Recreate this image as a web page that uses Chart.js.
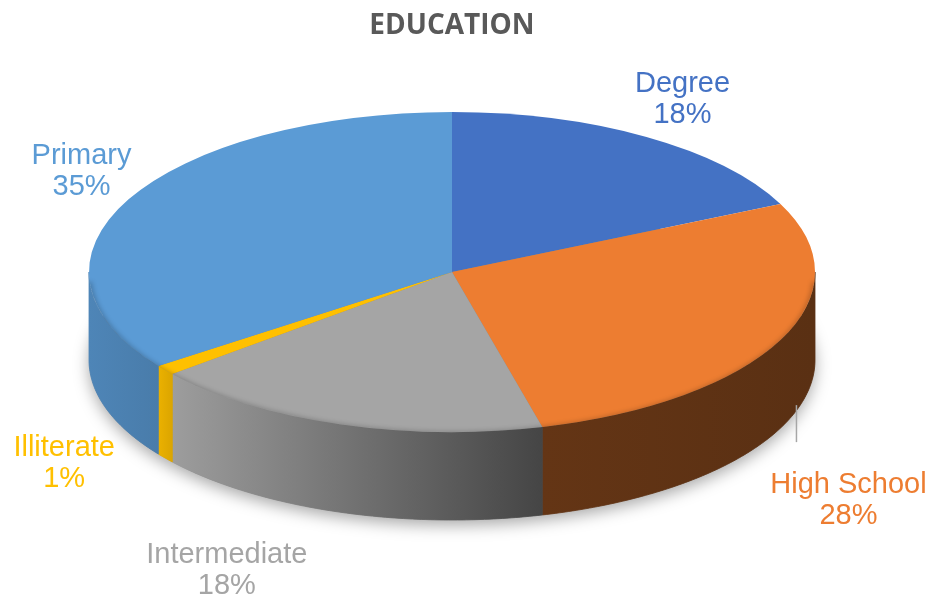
<!DOCTYPE html>
<html>
<head>
<meta charset="utf-8">
<title>Education</title>
<script src="https://cdn.jsdelivr.net/npm/chart.js@4.4.1/dist/chart.umd.min.js"></script>
<style>
  html, body { margin: 0; padding: 0; background: #fff; }
  #wrap { width: 938px; height: 605px; position: relative; }
</style>
</head>
<body>
<div id="wrap"><canvas id="eduChart"></canvas></div>
<script>
// ─── Data ───────────────────────────────
const categories  = ["Degree", "High School", "Intermediate", "Illiterate", "Primary"];
const shares      = [18, 28, 18, 1, 35];
const sliceColors = ["#4472C4", "#ED7D31", "#A5A5A5", "#FFC000", "#5B9BD5"];

// ─── 3D look ────────────────────────────
const TILT = { cx: 452, cy: 272, rx: 363, ry: 160, depth: 88 };
// side wall brightness at left / right end of each visible wall
const sideShade  = [[0.8, 0.8], [0.42, 0.38], [0.95, 0.42], [0.92, 0.86], [0.86, 0.8]];
// label offset from the rim point at the slice's mid angle
const labelNudge = [[36, -40], [68, 70], [-113, 56], [-101, 3], [-47, -30]];
const labelLeader = [false, true, false, false, false];

function shade(hex, f) {
  const n = parseInt(hex.slice(1), 16);
  const c = [(n >> 16) & 255, (n >> 8) & 255, n & 255].map(v => Math.min(255, Math.round(v * f)));
  return `rgb(${c[0]},${c[1]},${c[2]})`;
}

function rim(a) {
  return [TILT.cx + TILT.rx * Math.cos(a), TILT.cy + TILT.ry * Math.sin(a)];
}

function rimPath(ctx, s, e, drop) {
  const steps = Math.max(4, Math.ceil((e - s) * 80));
  for (let k = 0; k <= steps; k++) {
    const [x, y] = rim(s + (e - s) * k / steps);
    k ? ctx.lineTo(x, y + drop) : ctx.moveTo(x, y + drop);
  }
}

// ─── Plugin: tilt the pie and give it a wall ─────────
const tiltPlugin = {
  id: "tilt",
  beforeDatasetsDraw(chart) {
    const ctx = chart.ctx;
    const arcs = chart.getDatasetMeta(0).data;

    // soft shadow under the disc
    ctx.save();
    ctx.shadowColor = "rgba(0,0,0,0.35)";
    ctx.shadowBlur = 16;
    ctx.shadowOffsetY = 5;
    ctx.fillStyle = "#888";
    ctx.beginPath();
    ctx.ellipse(TILT.cx, TILT.cy + TILT.depth, TILT.rx, TILT.ry, 0, 0, Math.PI * 2);
    ctx.fill();
    ctx.restore();

    // front walls, only the part facing the viewer (0..PI)
    arcs.forEach((arc, i) => {
      const { startAngle, endAngle } = arc.getProps(["startAngle", "endAngle"], true);
      const s = Math.max(startAngle, 0);
      const e = Math.min(endAngle, Math.PI);
      if (e <= s) return;
      const steps = Math.max(4, Math.ceil((e - s) * 80));
      ctx.beginPath();
      rimPath(ctx, s, e, 0);
      for (let k = steps; k >= 0; k--) {
        const [x, y] = rim(s + (e - s) * k / steps);
        ctx.lineTo(x, y + TILT.depth);
      }
      ctx.closePath();
      const xl = rim(e)[0], xr = rim(s)[0];
      const g = ctx.createLinearGradient(xl, 0, xr + 0.01, 0);
      g.addColorStop(0, shade(sliceColors[i], sideShade[i][0]));
      g.addColorStop(1, shade(sliceColors[i], sideShade[i][1]));
      ctx.fillStyle = g;
      ctx.fill();
      ctx.strokeStyle = g;
      ctx.lineWidth = 0.8;
      ctx.stroke();
    });

    // squash the flat pie into the top face
    const { x, y, outerRadius } = arcs[0];
    ctx.save();
    ctx.translate(TILT.cx, TILT.cy);
    ctx.scale(TILT.rx / outerRadius, TILT.ry / outerRadius);
    ctx.translate(-x, -y);
  },
  afterDatasetsDraw(chart) {
    const ctx = chart.ctx;
    ctx.restore();

    // bevel shading along the front edge of the top face
    ctx.save();
    ctx.beginPath();
    ctx.ellipse(TILT.cx, TILT.cy, TILT.rx, TILT.ry, 0, 0, Math.PI * 2);
    ctx.clip();
    ctx.beginPath();
    rimPath(ctx, 0.05, Math.PI - 0.05, 2);
    ctx.strokeStyle = "rgba(0,0,0,0.18)";
    ctx.lineWidth = 6;
    ctx.filter = "blur(2px)";
    ctx.stroke();
    ctx.restore();

    // labels
    const arcs = chart.getDatasetMeta(0).data;
    ctx.save();
    ctx.font = '29px "Liberation Sans", Arial, sans-serif';
    ctx.textAlign = "center";
    ctx.textBaseline = "alphabetic";
    arcs.forEach((arc, i) => {
      const { startAngle, endAngle } = arc.getProps(["startAngle", "endAngle"], true);
      const mid = (startAngle + endAngle) / 2;
      let [lx, ly] = rim(mid);
      if (Math.sin(mid) > 0) ly += TILT.depth;
      lx += labelNudge[i][0];
      ly += labelNudge[i][1];
      ctx.fillStyle = sliceColors[i];
      ctx.fillText(categories[i], lx, ly - 5);
      ctx.fillText(shares[i] + "%", lx, ly + 26);
      if (labelLeader[i]) {
        ctx.strokeStyle = "#A6A6A6";
        ctx.lineWidth = 1.5;
        ctx.beginPath();
        ctx.moveTo(lx - 52, ly - 93);
        ctx.lineTo(lx - 52, ly - 56);
        ctx.stroke();
      }
    });
    ctx.restore();
  }
};

// ─── Chart ───────────────────────────────
new Chart(document.getElementById("eduChart"), {
  type: "pie",
  data: {
    labels: categories,
    datasets: [{
      data: shares,
      backgroundColor: sliceColors,
      borderWidth: 0,
      clip: false,
    }],
  },
  options: {
    responsive: true,
    maintainAspectRatio: false,
    animation: false,
    events: [],
    layout: { padding: { right: 34 } },
    plugins: {
      legend: { display: false },
      tooltip: { enabled: false },
      title: {
        display: true,
        text: "EDUCATION",
        color: "#595959",
        font: { family: '"Open Sans", sans-serif', size: 28, weight: "bold" },
        padding: { top: 9, bottom: 10 },
      },
    },
  },
  plugins: [tiltPlugin],
});
</script>
</body>
</html>
